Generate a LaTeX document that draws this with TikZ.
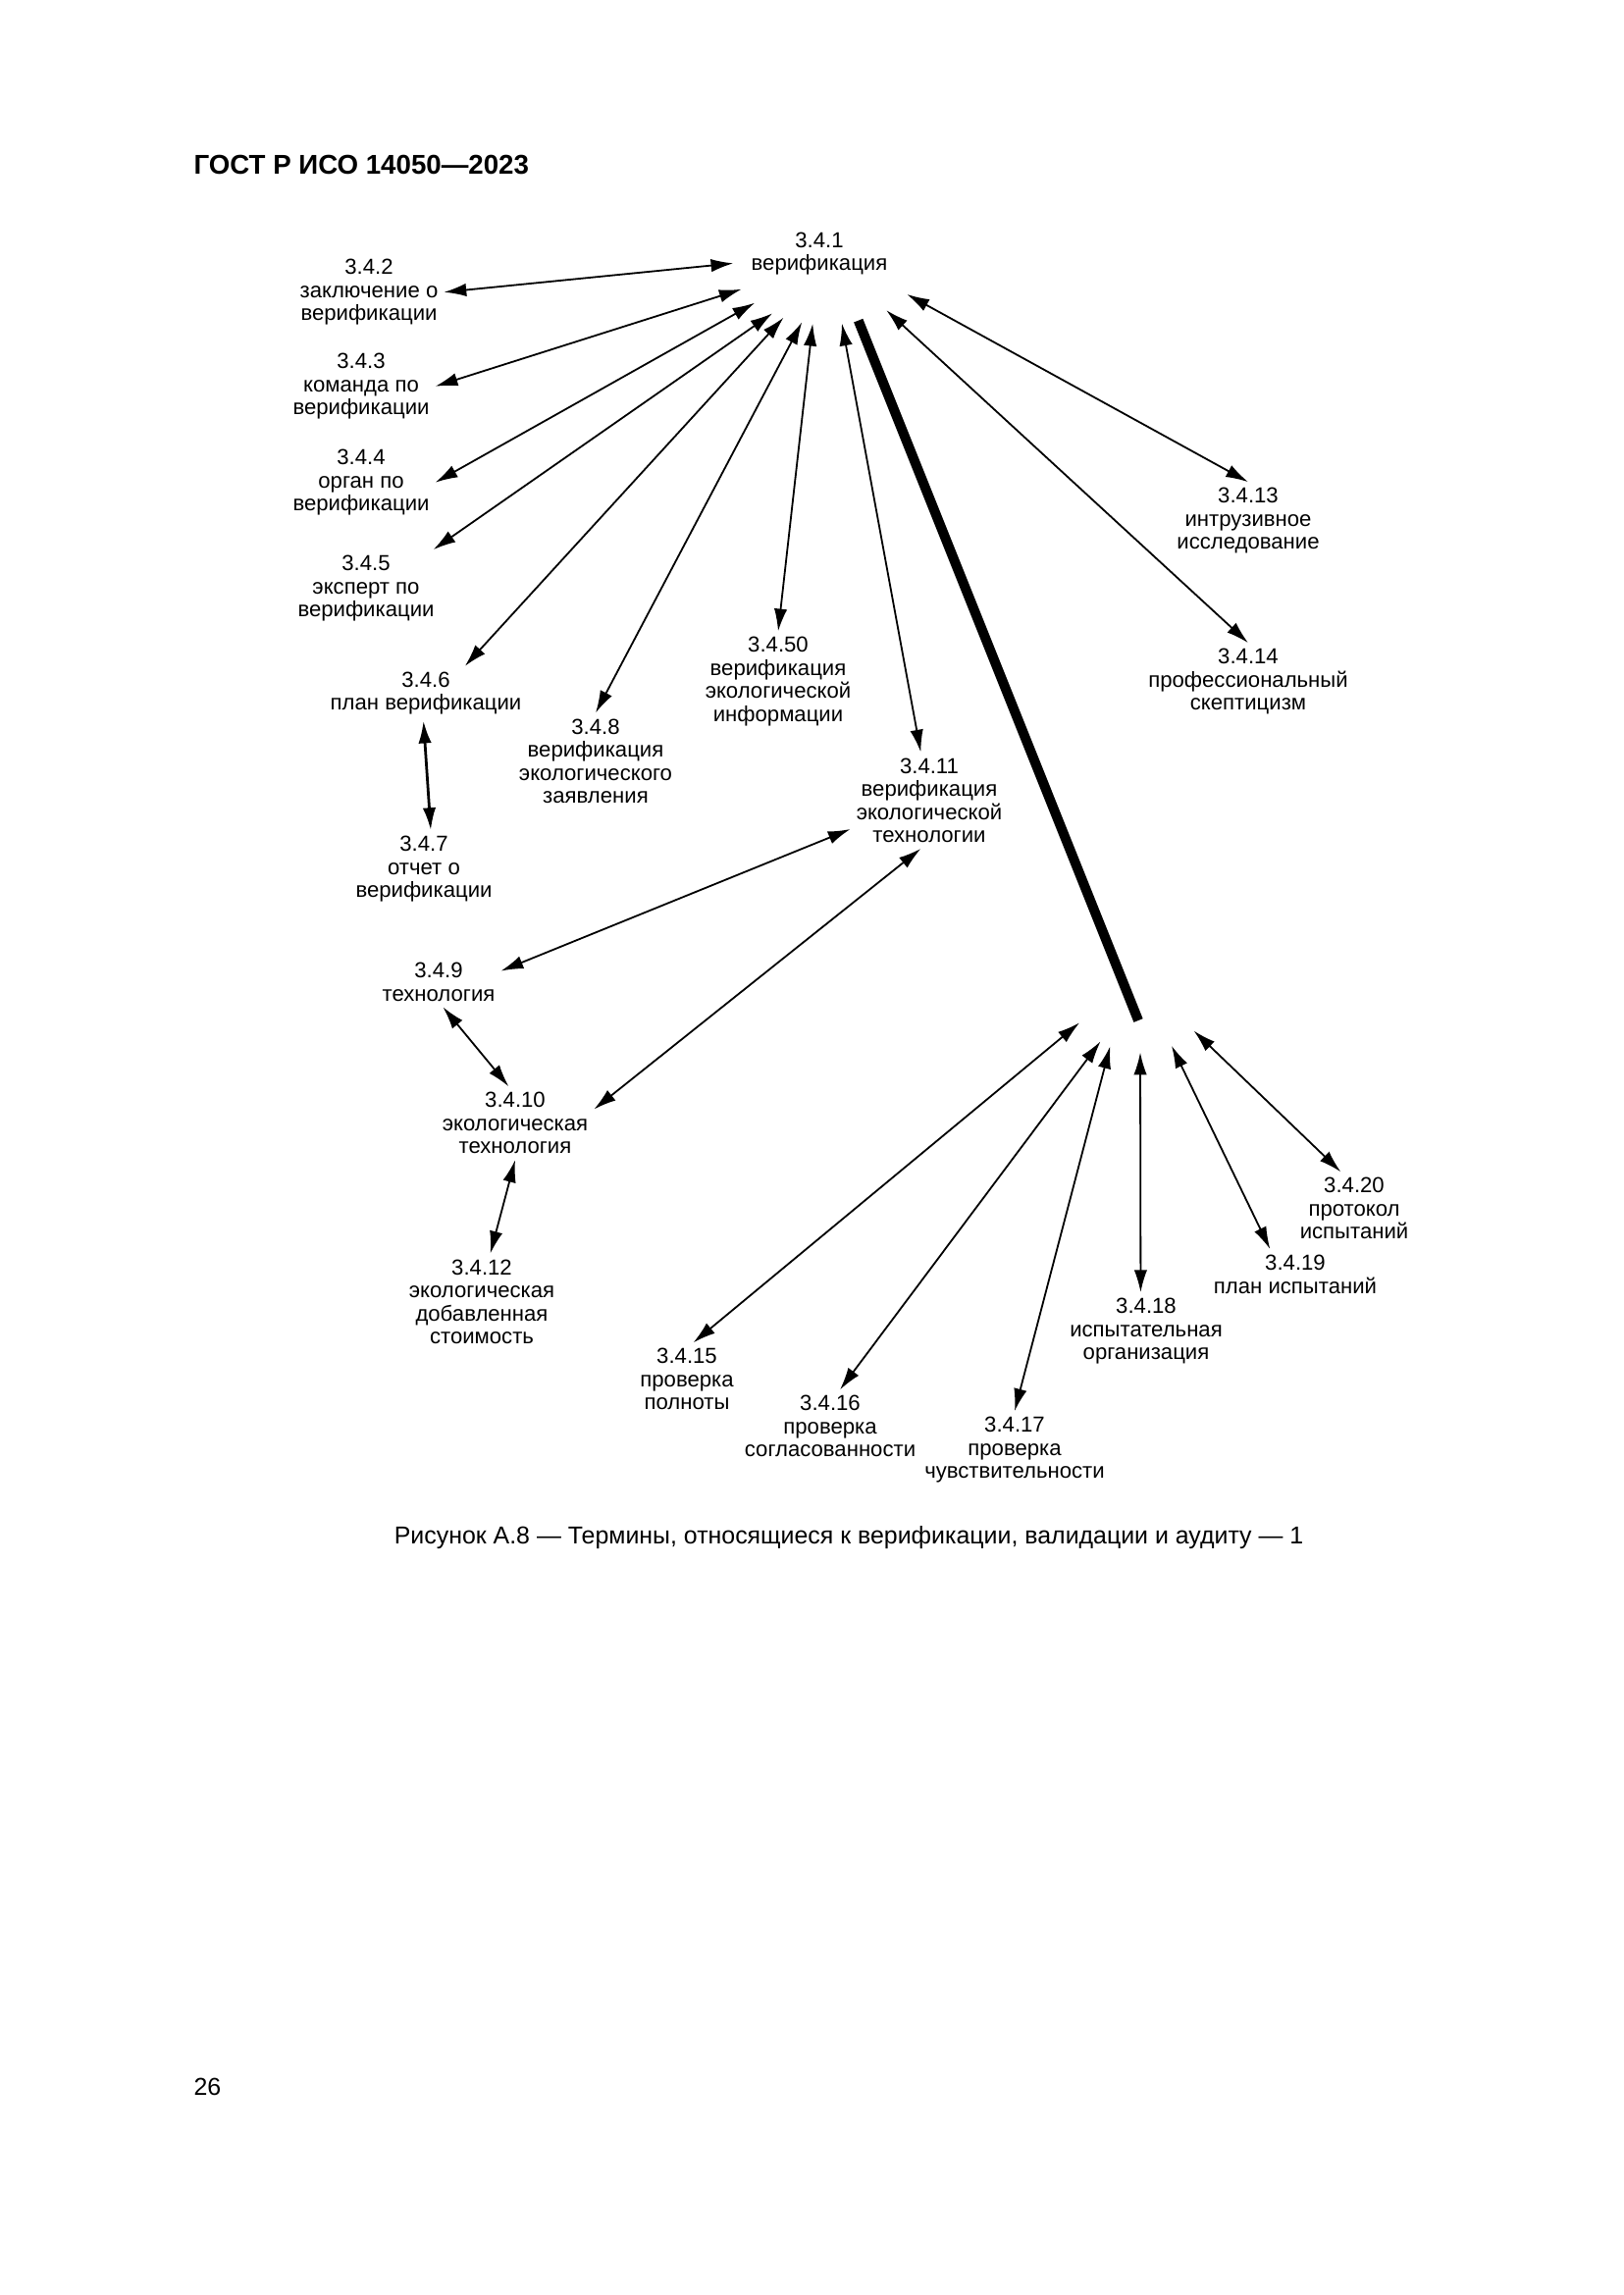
\documentclass[tikz,border=0pt]{standalone}
\usepackage{fontspec}
\setmainfont{Liberation Sans}
\usepackage{tikz}
\usetikzlibrary{shapes.geometric}
\usetikzlibrary{arrows.meta}
\tikzset{>={Latex[length=2.9mm,width=1.7mm]}}
\tikzstyle{term} = [align=center, font=\fontsize{8}{8.5}\selectfont, inner sep=2pt, yshift=-0.35mm]
\tikzstyle{arrow} = [line width=0.65pt,<->]
\tikzstyle{hubring} = [ellipse, inner sep=0pt, minimum width=23.9mm, minimum height=15.2mm]
\tikzstyle{hubdot} = [circle, inner sep=0pt, minimum size=19.8mm]
\tikzstyle{link} = [line width=3.6pt]

\begin{document}
\begin{tikzpicture}[x=0.127mm,y=-0.127mm]
\useasboundingbox (0,0) rectangle (1654,2339);

% Header, caption and page number
\node[anchor=west, inner sep=0pt, font=\bfseries\fontsize{10}{12}\selectfont] (head) at (197,168) {ГОСТ Р ИСО 14050—2023};
\node[inner sep=0pt, font=\fontsize{9}{11}\selectfont] (caption) at (865,1567) {Рисунок А.8 — Термины, относящиеся к верификации, валидации и аудиту — 1};
\node[anchor=west, inner sep=0pt, font=\fontsize{9}{11}\selectfont] (page) at (197,2127) {26};

% Terms
\node[term] (n341) at (835,256) {3.4.1\\верификация};
\node[term] (n342) at (376,295) {3.4.2\\заключение о\\верификации};
\node[term] (n343) at (368,391) {3.4.3\\команда по\\верификации};
\node[term] (n344) at (368,489) {3.4.4\\орган по\\верификации};
\node[term] (n345) at (373,597) {3.4.5\\эксперт по\\верификации};
\node[term] (n346) at (434,704) {3.4.6\\план верификации};
\node[term] (n347) at (432,883) {3.4.7\\отчет о\\верификации};
\node[term] (n348) at (607,773) {3.4.8\\верификация\\экологического\\заявления};
\node[term] (n3450) at (793,692) {3.4.50\\верификация\\экологической\\информации};
\node[term] (n3411) at (947,813) {3.4.11\\верификация\\экологической\\технологии};
\node[term] (n3413) at (1272,528) {3.4.13\\интрузивное\\исследование};
\node[term] (n3414) at (1272,692) {3.4.14\\профессиональный\\скептицизм};
\node[term] (n349) at (447,998) {3.4.9\\технология};
\node[term] (n3410) at (525,1142) {3.4.10\\экологическая\\технология};
\node[term] (n3412) at (491,1324) {3.4.12\\экологическая\\добавленная\\стоимость};
\node[term] (n3415) at (700,1403) {3.4.15\\проверка\\полноты};
\node[term] (n3416) at (846,1451) {3.4.16\\проверка\\согласованности};
\node[term] (n3417) at (1034,1475) {3.4.17\\проверка\\чувствительности};
\node[term] (n3418) at (1168,1354) {3.4.18\\испытательная\\организация};
\node[term] (n3419) at (1320,1296) {3.4.19\\план испытаний};
\node[term] (n3420) at (1380,1229) {3.4.20\\протокол\\испытаний};

% Invisible rings where the arrows meet
\node[hubring] (hub) at (842,270) {};
\node[hubdot] (hubb) at (1162,994) {};
\coordinate (joint) at (1160,1040);

% Arrows to 3.4.1
\draw[arrow] (n342.east) -- (hub.179);
\draw[arrow] (n343.east) -- (hub.196);
\draw[arrow] (n344.east) -- (hub.208);
\draw[arrow] (n345.30) -- (hub.222);
\draw[arrow] (n346.35) -- (hub.231);
\draw[arrow] (n348.north) -- (hub.247);
\draw[arrow] (n3450.north) -- (hub.257);
\draw[arrow] (n3411.100) -- (hub.285);
\draw[arrow] (n3414.north) -- (hub.323);
\draw[arrow] (n3413.north) -- (hub.340);
\draw[link] (hub.300) -- (joint);

% Arrows between the other terms
\draw[arrow, line width=1pt] (n346.-95) -- (n347.80);
\draw[arrow] (n349.10) -- (n3411.200);
\draw[arrow] (n3410.10) -- (n3411.-100);
\draw[arrow] (n349.-80) -- (n3410.100);
\draw[arrow] (n3410.south) -- (n3412.80);

% Arrows of the lower group
\draw[arrow] (n3415.80) -- (hubb.218);
\draw[arrow] (n3416.75) -- (hubb.239);
\draw[arrow] (n3417.north) -- (hubb.247);
\draw[arrow] (n3418.98) -- (hubb.270);
\draw[arrow] (n3419.135) -- (hubb.294);
\draw[arrow] (n3420.110) -- (hubb.314);

\end{tikzpicture}
\end{document}
